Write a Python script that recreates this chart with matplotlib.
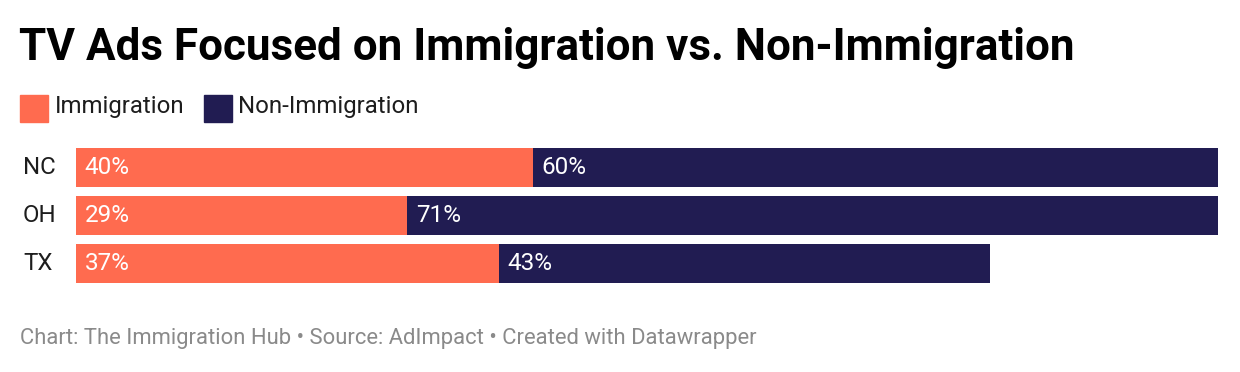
import matplotlib.pyplot as plt

states = ["NC", "OH", "TX"]
immigration = [40, 29, 37]
non_immigration = [60, 71, 43]
series_names = ["Immigration", "Non-Immigration"]

title = "TV Ads Focused on Immigration vs. Non-Immigration"
footer = "Chart: The Immigration Hub \u2022 Source: AdImpact \u2022 Created with Datawrapper"

ORANGE = "#ff6b4f"
NAVY = "#211c52"

W, H = 1240, 372
plt.rcParams['font.family'] = ['Roboto', 'DejaVu Sans']

fig = plt.figure(figsize=(W / 100, H / 100), dpi=100)

def fx(px):
    return px / W

def fy(py):
    return 1 - py / H

# bar area in pixels: x 76..1218, y 148..283
ax = fig.add_axes([fx(76), fy(283), fx(1218) - fx(76), fy(148) - fy(283)])
bar_h = 39 / 48
ypos = list(range(len(states)))
ax.barh(ypos, immigration, height=bar_h, color=ORANGE)
ax.barh(ypos, non_immigration, left=immigration, height=bar_h, color=NAVY)
ax.set_xlim(0, 100)
ax.set_ylim(len(states) - 0.5 - (1 - bar_h) / 2, -0.5 + (1 - bar_h) / 2)
ax.axis("off")

for i, st in enumerate(states):
    a, b = immigration[i], non_immigration[i]
    ax.text(0.75, i, f"{a}%", color="white", fontsize=17.5, va="center", ha="left")
    ax.text(a + 0.75, i, f"{b}%", color="white", fontsize=17.5, va="center", ha="left")
    ax.text(-4.65, i, st, color="#1d1d1d", fontsize=17.3, va="center", ha="left")

fig.text(fx(19), fy(60), title, fontsize=31.7, fontweight="bold", color="#000000",
         ha="left", va="baseline")

# legend
fig.patches.append(plt.Rectangle((fx(20), fy(122)), fx(28), fy(95) - fy(122),
                                 transform=fig.transFigure, color=ORANGE))
fig.text(fx(55), fy(113), series_names[0], fontsize=17.3, color="#1d1d1d", ha="left", va="baseline")
fig.patches.append(plt.Rectangle((fx(204), fy(122)), fx(28), fy(95) - fy(122),
                                 transform=fig.transFigure, color=NAVY))
fig.text(fx(238), fy(113), series_names[1], fontsize=17.3, color="#1d1d1d", ha="left", va="baseline")

fig.text(fx(20), fy(344), footer, fontsize=15.8, color="#8a8a8a", ha="left", va="baseline")

fig.savefig("out.png", dpi=100, facecolor="white")
